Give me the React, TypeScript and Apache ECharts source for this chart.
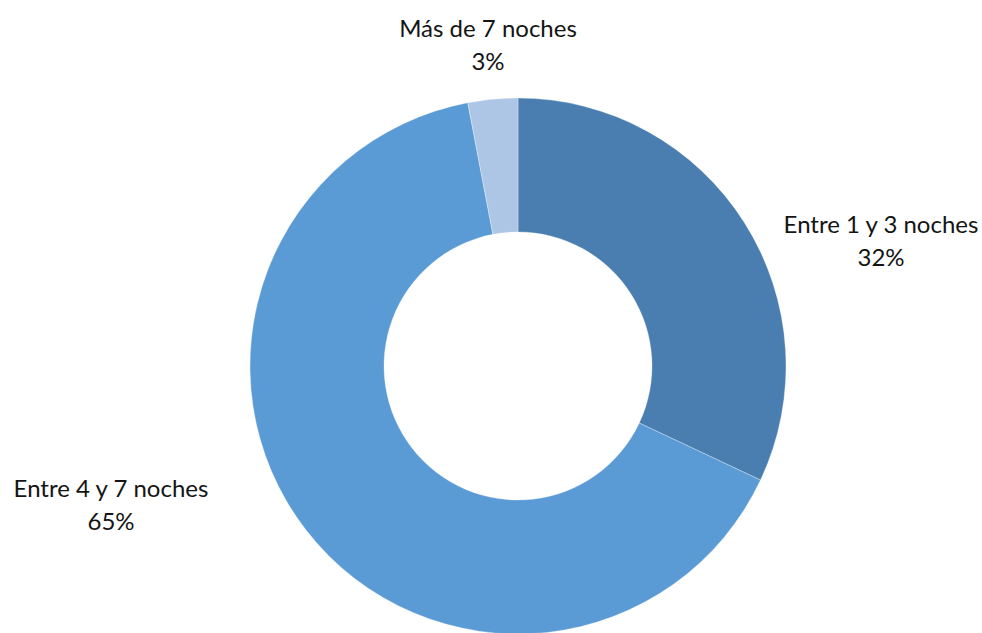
import React, { useEffect, useRef } from "react";
import * as echarts from "echarts";

const categories = ["Entre 1 y 3 noches", "Entre 4 y 7 noches", "Más de 7 noches"];
const shares = [32, 65, 3];
const colors = ["#4A7EB0", "#5B9BD5", "#ADC6E5"];

// label anchor points (centre of each two-line label)
const labelSpots = [
  [881, 240],
  [111, 504],
  [488, 44],
];

export default function App() {
  const ref = useRef<HTMLDivElement>(null);

  useEffect(() => {
    if (!ref.current) return;
    const chart = echarts.init(ref.current, undefined, { renderer: "svg" });
    chart.setOption({
      animation: false,
      backgroundColor: "#ffffff",
      series: [
        {
          type: "pie",
          center: [518, 366],
          radius: [134, 268],
          startAngle: 90,
          clockwise: true,
          avoidLabelOverlap: false,
          itemStyle: { borderColor: "rgba(255,255,255,0.6)", borderWidth: 0.5 },
          label: {
            show: true,
            position: "outside",
            formatter: (p: any) => `${p.name}\n${p.value}%`,
            fontFamily: "Lato",
            fontSize: 24,
            lineHeight: 33,
            color: "#141414",
            align: "center",
          },
          labelLine: { show: false },
          labelLayout: (p: any) => ({
            x: labelSpots[p.dataIndex][0],
            y: labelSpots[p.dataIndex][1],
            align: "center",
            verticalAlign: "middle",
          }),
          emphasis: { disabled: true },
          data: categories.map((name, i) => ({
            name,
            value: shares[i],
            itemStyle: { color: colors[i] },
          })),
        },
      ],
    });
    return () => chart.dispose();
  }, []);

  return (
    <div
      ref={ref}
      style={{ position: "absolute", left: 0, top: 0, width: 982, height: 633 }}
    />
  );
}
